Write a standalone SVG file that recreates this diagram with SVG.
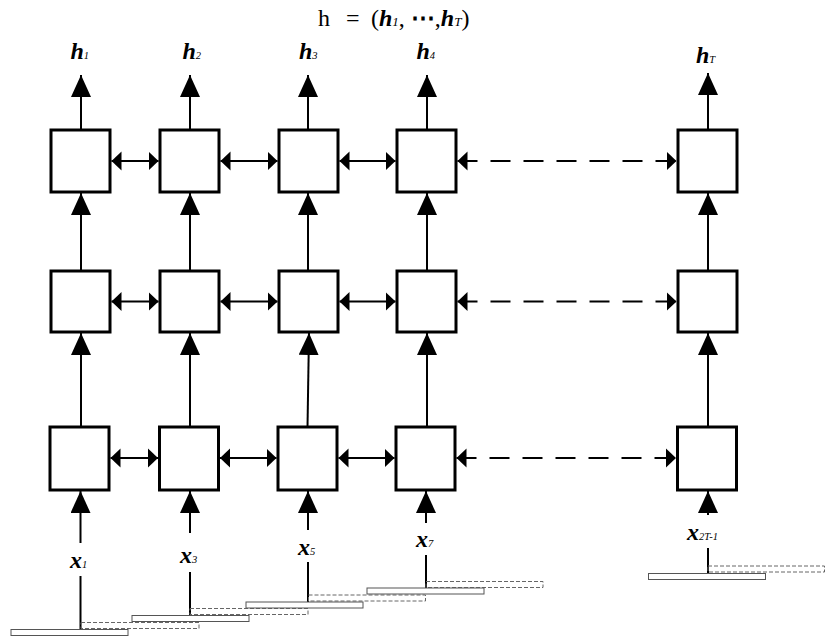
<svg xmlns="http://www.w3.org/2000/svg" width="831" height="644" viewBox="0 0 831 644">
<style>
.box{fill:#fff;stroke:#000;stroke-width:3}
.ln{stroke:#000;stroke-width:2;fill:none}
.v{stroke:#000;stroke-width:2;fill:none;marker-end:url(#av)}
.h{stroke:#000;stroke-width:2;fill:none;marker-start:url(#ah);marker-end:url(#ah)}
.hd{stroke:#000;stroke-width:2;fill:none;stroke-dasharray:20,13;marker-start:url(#ah);marker-end:url(#ah)}
.sr{fill:#fff;stroke:#555;stroke-width:1}
.dr{fill:none;stroke:#666;stroke-width:1;stroke-dasharray:4,2}
.lbl{font-family:"Liberation Serif","DejaVu Serif",serif;font-weight:bold;font-style:italic;font-size:24px;fill:#000}
.sub{font-family:"Liberation Serif","DejaVu Serif",serif;font-style:italic;font-weight:normal;font-size:10.5px}
.t{font-family:"Liberation Serif","DejaVu Serif",serif;font-size:24px;fill:#000}
.bi{font-weight:bold;font-style:italic}
.ts{font-style:italic;font-weight:normal;font-size:13px}
</style>
<defs>
<marker id="av" markerUnits="userSpaceOnUse" markerWidth="23" markerHeight="20" refX="22" refY="10" orient="auto" viewBox="0 0 23 20">
<path d="M0,0 L22,10 L0,20 z" fill="#000"/>
</marker>
<marker id="ah" markerUnits="userSpaceOnUse" markerWidth="11" markerHeight="20" refX="10" refY="10" orient="auto-start-reverse" viewBox="0 0 11 20">
<path d="M0,0.5 L10,10 L0,19.5 z" fill="#000"/>
</marker>
</defs>
<rect width="831" height="644" fill="#fff"/>

<g id="title">
<text class="t" y="26"><tspan x="318">h</tspan><tspan x="346">=</tspan><tspan x="371">(</tspan><tspan class="bi" x="379">h</tspan><tspan class="ts">1</tspan><tspan>, </tspan><tspan font-weight="bold">⋯</tspan><tspan>,</tspan><tspan class="bi">h</tspan><tspan class="ts">T</tspan><tspan>)</tspan></text>
</g>

<g id="connectors">
<line class="v" x1="81" y1="130" x2="81" y2="75"/>
<line class="v" x1="190" y1="130" x2="190" y2="75"/>
<line class="v" x1="308" y1="130" x2="308" y2="75"/>
<line class="v" x1="427" y1="130" x2="427" y2="75"/>
<line class="v" x1="708" y1="130" x2="708" y2="73"/>
<line class="v" x1="81" y1="271" x2="81" y2="193"/>
<line class="v" x1="190" y1="271" x2="190" y2="193"/>
<line class="v" x1="308" y1="271" x2="308" y2="193"/>
<line class="v" x1="427" y1="271" x2="427" y2="193"/>
<line class="v" x1="708" y1="271" x2="708" y2="193"/>
<line class="v" x1="81" y1="427" x2="81" y2="333"/>
<line class="v" x1="190" y1="427" x2="190" y2="333"/>
<line class="v" x1="307.5" y1="427" x2="309" y2="333"/>
<line class="v" x1="427" y1="427" x2="427" y2="333"/>
<line class="v" x1="708" y1="427" x2="708" y2="333"/>
<line class="v" x1="80.5" y1="543" x2="80.5" y2="491"/>
<line class="v" x1="190" y1="533" x2="190" y2="491"/>
<line class="v" x1="308" y1="530" x2="308" y2="491"/>
<line class="v" x1="426" y1="523" x2="426" y2="491"/>
<line class="v" x1="708" y1="515" x2="708" y2="491"/>
<line class="ln" x1="80.5" y1="576" x2="80.5" y2="630"/>
<line class="ln" x1="190" y1="572" x2="190" y2="616"/>
<line class="ln" x1="308" y1="562" x2="308" y2="602"/>
<line class="ln" x1="426" y1="555" x2="426" y2="588"/>
<line class="ln" x1="708" y1="548" x2="708" y2="573"/>
<line class="h" x1="111.5" y1="161" x2="158.5" y2="161"/>
<line class="h" x1="220.5" y1="161" x2="277.5" y2="161"/>
<line class="h" x1="339.5" y1="161" x2="395.5" y2="161"/>
<line class="hd" x1="457.5" y1="161" x2="676.5" y2="161"/>
<line class="h" x1="111.5" y1="301.5" x2="158.5" y2="301.5"/>
<line class="h" x1="220.5" y1="301.5" x2="277.5" y2="301.5"/>
<line class="h" x1="339.5" y1="301.5" x2="395.5" y2="301.5"/>
<line class="hd" x1="457.5" y1="301.5" x2="676.5" y2="301.5"/>
<line class="h" x1="110.5" y1="458" x2="158" y2="458"/>
<line class="h" x1="220" y1="458" x2="276.5" y2="458"/>
<line class="h" x1="338.5" y1="458" x2="394.5" y2="458"/>
<line class="hd" x1="456.5" y1="458" x2="676" y2="458"/>
</g>

<g id="row1">
<rect id="n11" class="box" x="51" y="130" width="59" height="62"/>
<rect id="n12" class="box" x="160" y="130" width="59" height="62"/>
<rect id="n13" class="box" x="279" y="130" width="59" height="62"/>
<rect id="n14" class="box" x="397" y="130" width="59" height="62"/>
<rect id="n1T" class="box" x="678" y="130" width="59" height="62"/>
</g>
<g id="row2">
<rect id="n21" class="box" x="51" y="271" width="59" height="61"/>
<rect id="n22" class="box" x="160" y="271" width="59" height="61"/>
<rect id="n23" class="box" x="279" y="271" width="59" height="61"/>
<rect id="n24" class="box" x="397" y="271" width="59" height="61"/>
<rect id="n2T" class="box" x="678" y="271" width="59" height="61"/>
</g>
<g id="row3">
<rect id="n31" class="box" x="50" y="427" width="59" height="63"/>
<rect id="n32" class="box" x="159.5" y="427" width="59" height="63"/>
<rect id="n33" class="box" x="278" y="427" width="59" height="63"/>
<rect id="n34" class="box" x="396" y="427" width="59" height="63"/>
<rect id="n3T" class="box" x="677.5" y="427" width="59" height="63"/>
</g>

<g id="outputs">
<text class="lbl" x="70.5" y="59">h<tspan class="sub">1</tspan></text>
<text class="lbl" x="182.5" y="59">h<tspan class="sub">2</tspan></text>
<text class="lbl" x="299" y="59">h<tspan class="sub">3</tspan></text>
<text class="lbl" x="416.5" y="59">h<tspan class="sub">4</tspan></text>
<text class="lbl" x="696" y="63">h<tspan class="sub">T</tspan></text>
</g>

<g id="inputs">
<text class="lbl" x="70" y="568">x<tspan class="sub">1</tspan></text>
<text class="lbl" x="180" y="563">x<tspan class="sub">3</tspan></text>
<text class="lbl" x="298" y="555">x<tspan class="sub">5</tspan></text>
<text class="lbl" x="416" y="547">x<tspan class="sub">7</tspan></text>
<text class="lbl" x="687" y="540">x<tspan class="sub">2T-1</tspan></text>
</g>

<g id="sequence">
<rect class="dr" x="81" y="622.5" width="118" height="6"/>
<rect class="sr" x="11" y="629.5" width="117" height="6"/>
<rect class="dr" x="190" y="608.5" width="118" height="6"/>
<rect class="sr" x="132" y="615.5" width="117" height="6"/>
<rect class="dr" x="308.5" y="595" width="117" height="6"/>
<rect class="sr" x="246" y="602" width="117" height="6"/>
<rect class="dr" x="426" y="581.5" width="117" height="6"/>
<rect class="sr" x="367" y="588" width="117" height="6"/>
<rect class="dr" x="708" y="566" width="116.5" height="6"/>
<rect class="sr" x="648.5" y="573.5" width="117" height="6"/>
</g>
</svg>
